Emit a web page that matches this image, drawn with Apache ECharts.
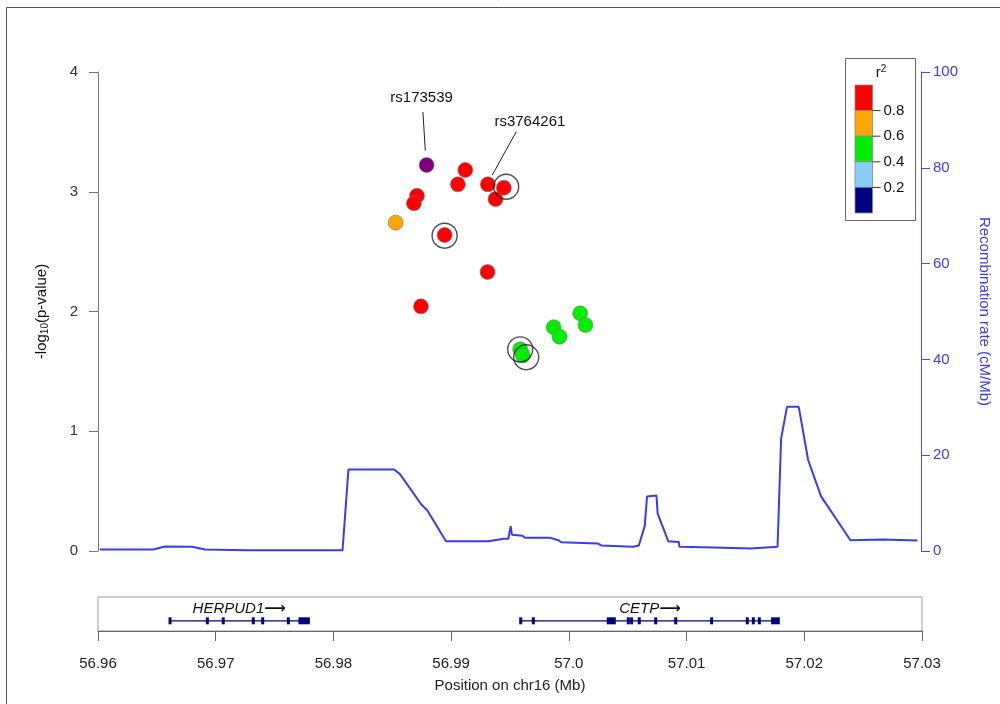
<!DOCTYPE html>
<html><head><meta charset="utf-8">
<script src="https://cdn.jsdelivr.net/npm/echarts@6/dist/echarts.min.js"></script>
<style>html,body{margin:0;padding:0;background:#fff}#c{width:1000px;height:704px}</style>
</head><body><div id="c"></div>
<script>
// ---- data ----
const xTickLabels = ['56.96','56.97','56.98','56.99','57.0','57.01','57.02','57.03'];
const snpPos  = [56.98795,56.99124,56.99061,56.99316,56.99452,56.99381,56.98713,56.98687,56.98532,56.98948,56.99313,56.98747,56.99876,56.99925,57.00101,57.00146,56.99591,56.99613];
const snpLogP = [3.223,3.182,3.062,3.062,3.034,2.939,2.967,2.904,2.742,2.639,2.330,2.043,1.868,1.790,1.985,1.887,1.684,1.634];
const snpR2   = [1.0,0.9,0.9,0.9,0.9,0.9,0.9,0.9,0.7,0.9,0.9,0.9,0.5,0.5,0.5,0.5,0.5,0.5];
const snpIsLead = [true,false,false,false,false,false,false,false,false,false,false,false,false,false,false,false,false,false];
const ringPos  = [56.99472,56.98948,56.99591,56.99642];
const ringLogP = [3.042,2.633,1.684,1.618];
const recPos  = [56.96017,56.9647,56.9657,56.9680,56.9691,56.9726,56.9808,56.9813,56.9852,56.9857,56.9875,56.9880,56.9896,56.9932,56.9945,56.9949,56.9951,56.9952,56.9961,56.9963,56.9985,56.9992,56.9994,57.0025,57.0028,57.0055,57.0060,57.0065,57.0067,57.0075,57.0076,57.0085,57.0094,57.00945,57.0124,57.0125,57.0155,57.0178,57.0181,57.0186,57.0196,57.0204,57.0215,57.0240,57.0267,57.0297];
const recRate = [0.3,0.3,0.94,0.88,0.3,0.17,0.17,17.0,17.0,16.0,9.7,8.5,2.05,2.05,2.55,2.55,5.2,3.4,3.2,2.75,2.75,2.2,1.84,1.57,1.15,0.88,1.15,5.2,11.4,11.6,7.8,2.05,1.9,0.88,0.73,0.46,0.52,0.88,23.4,30.1,30.1,19.0,11.4,2.25,2.4,2.2];
const geneNames = ['HERPUD1','CETP'];
const geneStart = [56.96612,56.99591];
const geneEnd   = [56.97787,57.01788];
const geneExons = [
  [[56.96612,56.96612],[56.96929,56.96929],[56.97064,56.97064],[56.97319,56.97319],[56.97399,56.97399],[56.97617,56.97617],[56.97716,56.97787]],
  [[56.99591,56.99591],[56.99698,56.99698],[57.00335,57.00364],[57.00386,57.00386],[57.00505,57.00505],[57.00533,57.00533],[57.00598,57.00598],[57.00738,57.00738],[57.00908,57.00908],[57.01213,57.01213],[57.01516,57.01516],[57.01567,57.01567],[57.01618,57.01618],[57.01731,57.01779]]
];
const legendBreaks = ['0.8','0.6','0.4','0.2'];
const legendColors = ['#ff0000','#ffa500','#00ee00','#87cefa','#000080'];
const leadColor = '#7f007f';
const annotations = [{name:'rs173539', idx:0, label:[-5,-67], line:[[-3.7,-53],[-1.3,-14.5]]},
                     {name:'rs3764261', idx:3, label:[42,-62], line:[[28.4,-52.6],[4.4,-9.3]]}];

function r2Color(r){ if(r>=0.8) return legendColors[0]; if(r>=0.6) return legendColors[1]; if(r>=0.4) return legendColors[2]; if(r>=0.2) return legendColors[3]; return legendColors[4]; }

const FONT = "'Liberation Sans', Arial, sans-serif";
const chart = echarts.init(document.getElementById('c'));

const snpData = snpPos.map((p,i)=>({value:[p,snpLogP[i]], itemStyle:{color: snpIsLead[i]?leadColor:r2Color(snpR2[i])}}));
const ringData = ringPos.map((p,i)=>[p,ringLogP[i]]);
const recData = recPos.map((p,i)=>[p,recRate[i]]);
const geneLineData = geneNames.map((n,i)=>[geneStart[i],geneEnd[i],i]);
const exonData = [];
geneExons.forEach((ex,g)=>ex.forEach(e=>exonData.push([e[0],e[1],g])));
const GENE_Y = 0.3;

const option = {
  backgroundColor:'#fff',
  animation:false,
  textStyle:{fontFamily:FONT},
  grid:[
    {left:98, width:824, top:72, height:479},
    {left:98, width:824, top:597, height:34, show:true, borderColor:'#999', borderWidth:1}
  ],
  xAxis:[
    {gridIndex:0, type:'value', min:56.96, max:57.03, show:false},
    {gridIndex:1, type:'value', min:56.96, max:57.03, interval:0.01, position:'bottom',
     axisLine:{onZero:false, lineStyle:{color:'#666',width:1}},
     axisTick:{length:10, lineStyle:{color:'#666'}},
     axisLabel:{margin:25, fontSize:15, color:'#222', fontFamily:FONT,
       formatter:v=>xTickLabels[Math.round((v-56.96)/0.01)]},
     splitLine:{show:false},
     name:'Position on chr16 (Mb)', nameLocation:'middle', nameGap:47,
     nameTextStyle:{fontSize:15,color:'#222',fontFamily:FONT}}
  ],
  yAxis:[
    {gridIndex:0, type:'value', min:0, max:4, interval:1, position:'left',
     axisLine:{show:true,lineStyle:{color:'#777'}},
     axisTick:{show:true,length:9,lineStyle:{color:'#777'}},
     axisLabel:{margin:20,fontSize:15,color:'#333',fontFamily:FONT},
     splitLine:{show:false},
     name:'-log{sub|10}(p-value)', nameLocation:'middle', nameGap:48, nameRotate:90,
     nameTextStyle:{fontSize:15,color:'#111',fontFamily:FONT,
       rich:{sub:{fontSize:10,verticalAlign:'bottom',padding:[6,0,0,0],fontFamily:FONT,color:'#111'}}}},
    {gridIndex:0, type:'value', min:0, max:100, interval:20, position:'right',
     axisLine:{show:true,lineStyle:{color:'#4a4af5'}},
     axisTick:{show:true,length:9,lineStyle:{color:'#4a4af5'}},
     axisLabel:{margin:12,fontSize:15,color:'#3b3bf0',fontFamily:FONT},
     splitLine:{show:false},
     name:'Recombination rate (cM/Mb)', nameLocation:'middle', nameGap:56, nameRotate:-90,
     nameTextStyle:{fontSize:15,color:'#3b3bf0',fontFamily:FONT}},
    {gridIndex:1, type:'value', min:0, max:1, show:false}
  ],
  series:[
    {type:'line', xAxisIndex:0, yAxisIndex:1, data:recData, showSymbol:false, symbol:'none',
     lineStyle:{color:'#3b3bf0',width:2}, z:2, silent:true},
    {type:'scatter', xAxisIndex:0, yAxisIndex:0, data:snpData, symbol:'circle', symbolSize:15,
     itemStyle:{borderColor:'#777',borderWidth:0.6,opacity:1}, z:4},
    {type:'scatter', xAxisIndex:0, yAxisIndex:0, data:ringData, symbol:'circle', symbolSize:25,
     itemStyle:{color:'rgba(0,0,0,0)',borderColor:'#222',borderWidth:1.4}, z:5},
    {type:'custom', xAxisIndex:1, yAxisIndex:2, data:geneLineData, z:3,
     renderItem:(params,api)=>{
       const a=api.coord([api.value(0),GENE_Y]); const b=api.coord([api.value(1),GENE_Y]);
       const name=geneNames[api.value(2)];
       return {type:'group',children:[
         {type:'line',shape:{x1:a[0],y1:a[1],x2:b[0],y2:b[1]},style:{stroke:'#000080',lineWidth:1.3}},
         {type:'text',style:{text:name+'{ar|\u27f6}',x:(a[0]+b[0])/2,y:a[1]-12,align:'center',verticalAlign:'middle',
           font:'italic 15px '+FONT,fill:'#111',
           rich:{ar:{fontFamily:'DejaVu Sans',fontSize:15,fontStyle:'normal',fontWeight:'bold',fill:'#111',color:'#111'}}}}
       ]};
     }},
    {type:'custom', xAxisIndex:1, yAxisIndex:2, data:exonData, z:4,
     renderItem:(params,api)=>{
       const a=api.coord([api.value(0),GENE_Y]); const b=api.coord([api.value(1),GENE_Y]);
       const w=Math.max(3,b[0]-a[0]+3);
       return {type:'rect',shape:{x:(a[0]+b[0])/2-w/2,y:a[1]-3.5,width:w,height:7},style:{fill:'#000080'}};
     }}
  ],
  graphic:[]
};
chart.setOption(option);

// legend + frame + annotations
const g=[];
g.push({type:'rect',shape:{x:6.5,y:7.5,width:1010,height:720},style:{fill:'none',stroke:'#555',lineWidth:1},silent:true,z:0});
g.push({type:'rect',shape:{x:845.5,y:58.5,width:70,height:162},style:{fill:'#fff',stroke:'#666',lineWidth:1},z:10});
g.push({type:'text',style:{text:'r{sup|2}',x:881,y:73,align:'center',verticalAlign:'middle',font:'15px '+FONT,fill:'#111',
  rich:{sup:{fontSize:10,verticalAlign:'top',padding:[0,0,8,0],fontFamily:FONT}}},z:11});
const bx=855, bw=17.5, by0=85, bh=25.6;
legendColors.forEach((c,i)=>{
  g.push({type:'rect',shape:{x:bx,y:by0+i*bh,width:bw,height:bh},style:{fill:c,stroke:'#888',lineWidth:0.8},z:11});
});
legendBreaks.forEach((t,i)=>{
  const y=by0+(i+1)*bh;
  g.push({type:'line',shape:{x1:bx+bw,y1:y,x2:bx+bw+8,y2:y},style:{stroke:'#333',lineWidth:1},z:11});
  g.push({type:'text',style:{text:t,x:bx+bw+11,y:y,align:'left',verticalAlign:'middle',font:'15px '+FONT,fill:'#111'},z:11});
});
annotations.forEach(a=>{
  const p=chart.convertToPixel({seriesIndex:1},[snpPos[a.idx],snpLogP[a.idx]]);
  g.push({type:'text',style:{text:a.name,x:p[0]+a.label[0],y:p[1]+a.label[1],align:'center',verticalAlign:'middle',font:'15px '+FONT,fill:'#111'},z:12});
  g.push({type:'line',shape:{x1:p[0]+a.line[0][0],y1:p[1]+a.line[0][1],x2:p[0]+a.line[1][0],y2:p[1]+a.line[1][1]},style:{stroke:'#222',lineWidth:1},z:12});
});
chart.setOption({graphic:g});
</script></body></html>
